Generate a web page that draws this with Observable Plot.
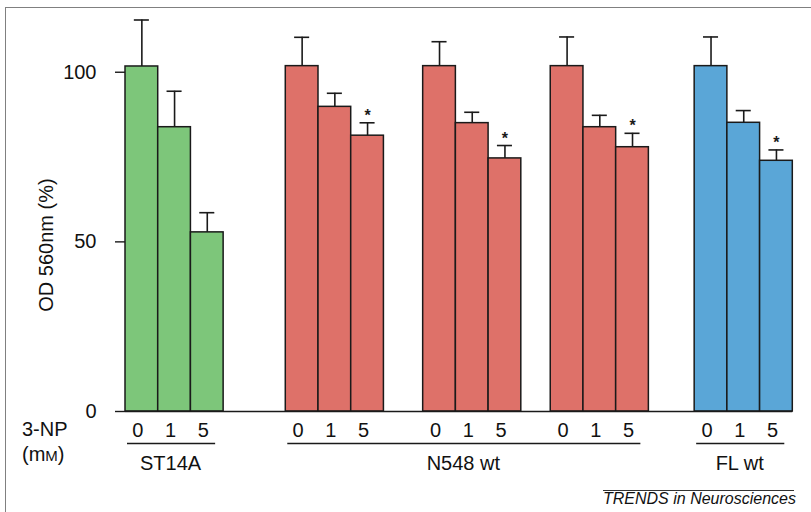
<!DOCTYPE html>
<html>
<head>
<meta charset="utf-8">
<script src="https://cdn.jsdelivr.net/npm/d3@7"></script>
<script src="https://cdn.jsdelivr.net/npm/@observablehq/plot@0.6"></script>
<style>
  html, body { margin: 0; padding: 0; background: #fff; overflow: hidden; }
  #wrap { position: relative; width: 811px; height: 512px; overflow: hidden; font-family: "Liberation Sans", Arial, sans-serif; color: #111; }
  #chart { position: absolute; left: 0; top: 0; }
  .frame { position: absolute; left: 5px; top: 7px; width: 900px; height: 600px; border-left: 1.5px solid #808080; border-top: 1.5px solid #808080; }
  .lbl { position: absolute; font-size: 20px; line-height: 20px; white-space: nowrap; }
  .ylabel { position: absolute; left: -54px; top: 235px; width: 200px; text-align: center; font-size: 20px; line-height: 20px; white-space: nowrap; transform: rotate(-90deg); transform-origin: 50% 50%; }
  .caption { position: absolute; left: 603px; top: 490px; width: 191px; border-top: 1px solid #333; font-size: 16px; line-height: 16px; font-style: italic; text-align: right; white-space: nowrap; }
</style>
</head>
<body>
<div id="wrap">
  <div class="frame"></div>
  <div id="chart"></div>
  <div class="ylabel">OD 560nm (%)</div>
  <div class="lbl" style="left:22px; top:419px;">3-NP</div>
  <div class="lbl" style="left:22px; top:444px;">(m<span style="font-size:15px;">M</span>)</div>
  <div class="caption">TRENDS in Neurosciences</div>
</div>
<script>
// ---- data ----
const doses = ["0", "1", "5"];
const cellLines = ["ST14A", "N548 wt", "N548 wt", "N548 wt", "FL wt"];
const meanValues = [
  [101.7, 83.8, 52.8],
  [101.8, 89.8, 81.3],
  [101.8, 85.0, 74.6],
  [101.8, 83.8, 77.9],
  [101.8, 85.1, 73.9]
];
const errorTops = [
  [115.4, 94.4, 58.6],
  [110.3, 93.8, 85.1],
  [109.0, 88.2, 78.4],
  [110.4, 87.3, 82.0],
  [110.4, 88.7, 77.1]
];
const significant = [
  [false, false, false],
  [false, false, true],
  [false, false, true],
  [false, false, true],
  [false, false, true]
];
const yTicks = [0, 50, 100];
const groupLabels = ["ST14A", "N548 wt", "FL wt"];

// ---- layout / style ----
const lineColors = {"ST14A": "#7dc67a", "N548 wt": "#de7169", "FL wt": "#5aa6d7"};
const gapBefore = [0, 1.9, 1.2, 0.9, 1.4]; // in bar widths
const capHalf = 0.23;

const rows = [];
let pos = 0;
cellLines.forEach((line, g) => {
  pos += gapBefore[g];
  doses.forEach((dose, d) => {
    rows.push({group: g, line, dose, x1: pos, x2: pos + 1, c: pos + 0.5,
      mean: meanValues[g][d], err: errorTops[g][d], star: significant[g][d]});
    pos += 1;
  });
});
const total = pos;

const spans = groupLabels.map(label => {
  const r = rows.filter(d => d.line === label);
  const x1 = d3.min(r, d => d.x1), x2 = d3.max(r, d => d.x2);
  return {label, x1, x2, mid: (x1 + x2) / 2};
});

const chart = Plot.plot({
  width: 811,
  height: 512,
  marginLeft: 125,
  marginRight: 18.7,
  marginTop: 10,
  marginBottom: 101,
  style: {fontFamily: "'Liberation Sans', Arial, sans-serif", color: "#111", background: "transparent", overflow: "visible"},
  x: {domain: [0, total], axis: null},
  y: {domain: [0, 118.2], axis: null},
  marks: [
    Plot.ruleX(rows, {x: "c", y1: "mean", y2: "err", stroke: "#1a1a1a", strokeWidth: 1.6}),
    Plot.ruleY(rows, {x1: d => d.c - capHalf, x2: d => d.c + capHalf, y: "err", stroke: "#1a1a1a", strokeWidth: 1.6}),
    Plot.rectY(rows, {x1: "x1", x2: "x2", y1: 0, y2: "mean", fill: d => lineColors[d.line], stroke: "#1a1a1a", strokeWidth: 1.5}),
    Plot.ruleY([0], {stroke: "#1a1a1a", strokeWidth: 1.5}),
    Plot.axisY({ticks: yTicks, tickSize: 10, tickPadding: 19, fontSize: 20, label: null, stroke: "#1a1a1a", strokeWidth: 1.4}),
    Plot.text(rows.filter(d => d.star), {x: "c", y: "err", text: () => "*", dy: -7, fontSize: 16, fontWeight: "bold", fill: "#1a1a1a"}),
    Plot.text(rows, {x: "c", y: 0, text: "dose", dy: 19, dx: -4, fontSize: 20, fill: "#111"}),
    Plot.ruleY(spans, {x1: "x1", x2: "x2", y: 0, dy: 32, insetLeft: 2, insetRight: 8, stroke: "#1a1a1a", strokeWidth: 1.4}),
    Plot.text(spans, {x: "mid", y: 0, text: "label", dy: 52, dx: -4, fontSize: 20, fill: "#111"})
  ]
});
document.getElementById("chart").appendChild(chart);
</script>
</body>
</html>
